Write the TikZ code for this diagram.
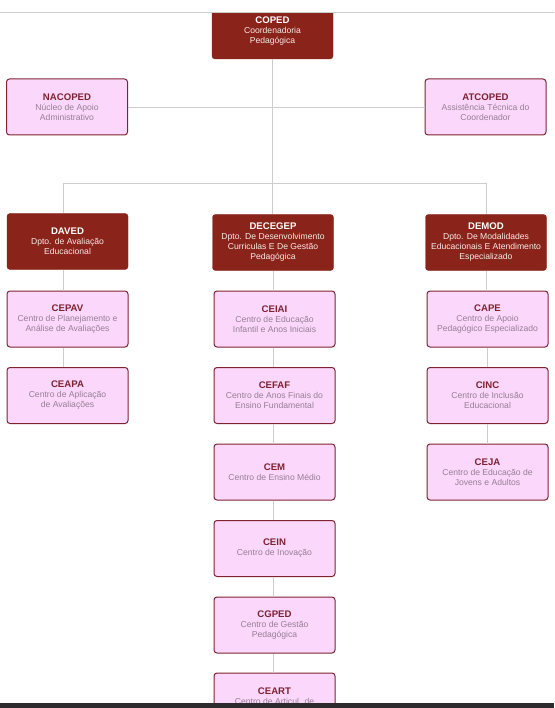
\documentclass[tikz,border=0pt]{standalone}
\usepackage{fontspec}
\setmainfont{Liberation Sans}
\newcommand{\hd}[1]{\textcolor{hdcol}{\bfseries\fontsize{9.6}{11}\selectfont #1}}
\begin{document}
\begin{tikzpicture}[x=1pt,y=-1pt,
    box/.style={rectangle, rounded corners=3pt, minimum width=121pt, minimum height=56pt,
        inner sep=2pt, align=center, font=\fontsize{8.6}{10}\selectfont},
    dept/.style={box, fill=deptred, draw=deptred, text=deptsub,
        execute at begin node={\colorlet{hdcol}{white}}},
    unit/.style={box, fill=unitpink, draw=unitline, line width=1pt, text=unitsub,
        execute at begin node={\colorlet{hdcol}{unitline}}},
    link/.style={draw=linegrey, line width=0.8pt}]
        \definecolor{deptred}{RGB}{138,36,27}
        \definecolor{deptsub}{RGB}{248,232,232}
        \definecolor{unitpink}{RGB}{250,215,251}
        \definecolor{unitline}{RGB}{128,34,48}
        \definecolor{unitsub}{RGB}{150,128,148}
        \definecolor{linegrey}{RGB}{205,205,205}
        \useasboundingbox (0,0) rectangle (554,708);
        \fill[white] (0,0) rectangle (554,708);
        % direção
        \node[dept] (COPED) at (272.5,31) {\hd{COPED}\\ Coordenadoria\\ Pedagógica};
        \node[unit] (NACOPED) at (67,107) {\hd{NACOPED}\\ Núcleo de Apoio\\ Administrativo};
        \node[unit] (ATCOPED) at (485.5,107) {\hd{ATCOPED}\\ Assistência Técnica do\\ Coordenador};
        % departamentos
        \node[dept] (DAVED) at (67.5,241.5) {\hd{DAVED}\\ Dpto. de Avaliação\\ Educacional};
        \node[dept] (DECEGEP) at (273,242.5) {\hd{DECEGEP}\\ Dpto. De Desenvolvimento\\ Curriculas E De Gestão\\ Pedagógica};
        \node[dept] (DEMOD) at (486,242.5) {\hd{DEMOD}\\ Dpto. De Modalidades\\ Educacionais E Atendimento\\ Especializado};
        % centros
        \node[unit] (CEPAV) at (67.5,319) {\hd{CEPAV}\\ Centro de Planejamento e\\ Análise de Avaliações};
        \node[unit] (CEAPA) at (67.5,395.5) {\hd{CEAPA}\\ Centro de Aplicação\\ de Avaliações};
        \node[unit] (CEIAI) at (274.5,319) {\hd{CEIAI}\\ Centro de Educação\\ Infantil e Anos Iniciais};
        \node[unit] (CEFAF) at (274.5,395.5) {\hd{CEFAF}\\ Centro de Anos Finais do\\ Ensino Fundamental};
        \node[unit] (CEM) at (274.5,472) {\hd{CEM}\\ Centro de Ensino Médio};
        \node[unit] (CEIN) at (274.5,548.5) {\hd{CEIN}\\ Centro de Inovação};
        \node[unit] (CGPED) at (274.5,625) {\hd{CGPED}\\ Centro de Gestão\\ Pedagógica};
        \node[unit] (CEART) at (274.5,701) {\hd{CEART}\\ Centro de Articul. de\\ \phantom{X}};
        \node[unit] (CAPE) at (487.5,319) {\hd{CAPE}\\ Centro de Apoio\\ Pedagógico Especializado};
        \node[unit] (CINC) at (487.5,395.5) {\hd{CINC}\\ Centro de Inclusão\\ Educacional};
        \node[unit] (CEJA) at (487.5,472) {\hd{CEJA}\\ Centro de Educação de\\ Jovens e Adultos};
        % ligações
        \coordinate (bus) at (272.5,183);
        \draw[link] (COPED.south) |- (NACOPED.east);
        \draw[link] (COPED.south) |- (ATCOPED.west);
        \draw[link] (COPED.south) -- (COPED.south |- DECEGEP.north);
        \draw[link] (bus) -| ([xshift=-4.5pt]DAVED.north);
        \draw[link] (bus) -| (DEMOD.north);
        \draw[link] ([xshift=-4.5pt]DAVED.south) -- ([xshift=-4.5pt]CEPAV.north);
        \draw[link] ([xshift=-4.5pt]CEPAV.south) -- ([xshift=-4.5pt]CEAPA.north);
        \draw[link] (DECEGEP.south) -- (DECEGEP.south |- CEIAI.north);
        \foreach \a/\b in {CEIAI/CEFAF, CEFAF/CEM, CEM/CEIN, CEIN/CGPED, CGPED/CEART}
            \draw[link] ([xshift=-1.5pt]\a.south) -- ([xshift=-1.5pt]\b.north);
        \draw[link] (DEMOD.south) -- (DEMOD.south |- CAPE.north);
        \foreach \a/\b in {CAPE/CINC, CINC/CEJA}
            \draw[link] (\a.south) -- (\b.north);
        % moldura da página
        \fill[white] (0,0) rectangle (554,12);
        \draw[linegrey, line width=0.6pt] (0,12) -- (554,12);
        \fill[black!80!cyan!30!black] (0,703) rectangle (554,708);
\end{tikzpicture}
\end{document}
